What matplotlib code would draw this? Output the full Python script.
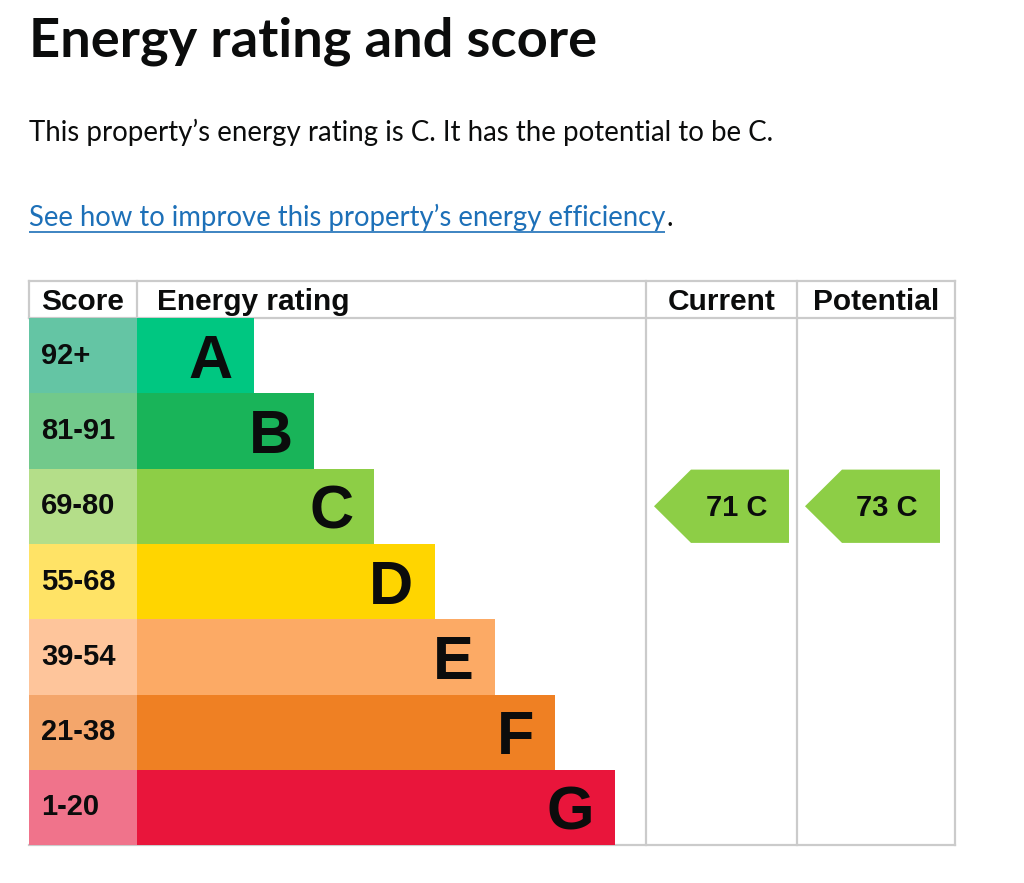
import matplotlib
matplotlib.use('Agg')
import matplotlib.pyplot as plt
from matplotlib.patches import Polygon
from matplotlib import font_manager

# ---------------- data ----------------
bands = ['A', 'B', 'C', 'D', 'E', 'F', 'G']
score_ranges = ['92+', '81-91', '69-80', '55-68', '39-54', '21-38', '1-20']
band_min = [92, 81, 69, 55, 39, 21, 1]
bar_colors = ['#00c781', '#19b459', '#8dce46', '#ffd500', '#fcaa65', '#ef8023', '#e9153b']
score_colors = ['#64c5a4', '#72c98b', '#b4de89', '#ffe366', '#fec59b', '#f4a66b', '#f0738b']
current_score = 71
potential_score = 73
headers = ['Score', 'Energy rating', 'Current', 'Potential']
title = 'Energy rating and score'
subtitle = 'This property\u2019s energy rating is C. It has the potential to be C.'
link_text = 'See how to improve this property\u2019s energy efficiency'

# ---------------- fonts ----------------
available = {f.name for f in font_manager.fontManager.ttflist}
def pick(*names):
    for n in names:
        if n in available:
            return n
    return 'DejaVu Sans'
ui_font = pick('Lato', 'Noto Sans', 'Open Sans', 'DejaVu Sans')
arial = pick('Liberation Sans', 'Arimo', 'DejaVu Sans')

# ---------------- layout ----------------
W, H = 1024, 883
fig = plt.figure(figsize=(W / 100, H / 100), dpi=100)
ax = fig.add_axes([0, 0, 1, 1])
ax.set_xlim(0, W)
ax.set_ylim(H, 0)
ax.axis('off')

t_left, t_right = 29, 955
c_rating, c_current, c_potential = 137, 646, 797
h_top, h_bot = 281, 318
row_h = 75.3
bar_w0, bar_step = 117, 60.17
arrow_w, arrow_tip = 135, 37
grid = '#cbcbcb'
ink = '#0b0c0c'

renderer = fig.canvas.get_renderer()

def fit_text(x, y, s, target_w, size0, **kw):
    t = ax.text(x, y, s, fontsize=size0, **kw)
    bb = t.get_window_extent(renderer=renderer)
    t.set_fontsize(size0 * target_w / bb.width)
    return t

# headline texts
fit_text(29, 57, title, 569, 34, family=ui_font, weight='bold', color=ink, va='baseline')
fit_text(29, 141, subtitle, 740, 18, family=ui_font, color=ink, va='baseline')
lt = fit_text(29, 226, link_text, 636, 18, family=ui_font, color='#1d70b8', va='baseline')
lbb = lt.get_window_extent(renderer=renderer)
ax.plot([29, 29 + lbb.width], [231.5, 231.5], color='#1d70b8', lw=1.2, solid_capstyle='butt')
ax.text(29 + lbb.width + 1, 226, '.', fontsize=lt.get_fontsize(), family=ui_font,
        color=ink, va='baseline')

# rows
n = len(bands)
centers = [h_bot + row_h * (i + 0.5) for i in range(n)]
bar_widths = [bar_w0 + bar_step * i for i in range(n)]
t_bottom = h_bot + row_h * n

# grid lines
lw = 1.6
ax.plot([t_left, t_right], [h_top, h_top], color=grid, lw=lw, zorder=1)
ax.plot([t_left, t_right], [h_bot, h_bot], color=grid, lw=lw, zorder=1)
ax.plot([t_left, t_right], [t_bottom, t_bottom], color=grid, lw=lw, zorder=1)
for x in [t_left, c_rating]:
    ax.plot([x, x], [h_top, h_bot], color=grid, lw=lw, zorder=1)
for x in [c_current, c_potential, t_right]:
    ax.plot([x, x], [h_top, t_bottom], color=grid, lw=lw, zorder=1)

# bars
ax.barh(centers, [c_rating - t_left] * n, left=t_left, height=row_h,
        color=score_colors, edgecolor='none', zorder=2)
ax.barh(centers, bar_widths, left=c_rating, height=row_h,
        color=bar_colors, edgecolor='none', zorder=2)

for i in range(n):
    ax.text(41, centers[i] + 8, score_ranges[i], family=arial, weight='bold',
            fontsize=21, color=ink, va='baseline', ha='left', zorder=3)
    ax.text(c_rating + bar_widths[i] - 21, centers[i] + 22, bands[i], family=arial,
            weight='bold', fontsize=44, color=ink, va='baseline', ha='right', zorder=3)

# headers
hb = 310
hs = 21.5
ax.text(41, hb, headers[0], family=arial, weight='bold', fontsize=hs, color=ink, va='baseline')
ax.text(157, hb, headers[1], family=arial, weight='bold', fontsize=hs, color=ink, va='baseline')
ax.text((c_current + c_potential) / 2, hb, headers[2], family=arial, weight='bold',
        fontsize=hs, color=ink, va='baseline', ha='center')
ax.text((c_potential + t_right) / 2, hb, headers[3], family=arial, weight='bold',
        fontsize=hs, color=ink, va='baseline', ha='center')

# arrows
def band_of(score):
    for i, m in enumerate(band_min):
        if score >= m:
            return i
    return n - 1

def arrow(score, x0):
    i = band_of(score)
    yc = centers[i]
    top, bot = yc - row_h / 2 + 1, yc + row_h / 2 - 1
    l = x0 + 8
    r = l + arrow_w
    pts = [(l, yc), (l + arrow_tip, top), (r, top), (r, bot), (l + arrow_tip, bot)]
    ax.add_patch(Polygon(pts, closed=True, facecolor=bar_colors[i], edgecolor='none', zorder=2))
    ax.text(r - 22, yc + 10, f'{score} {bands[i]}', family=arial, weight='bold',
            fontsize=21, color=ink, va='baseline', ha='right', zorder=3)

arrow(current_score, c_current)
arrow(potential_score, c_potential)

fig.savefig('out.png', dpi=100, facecolor='white')
